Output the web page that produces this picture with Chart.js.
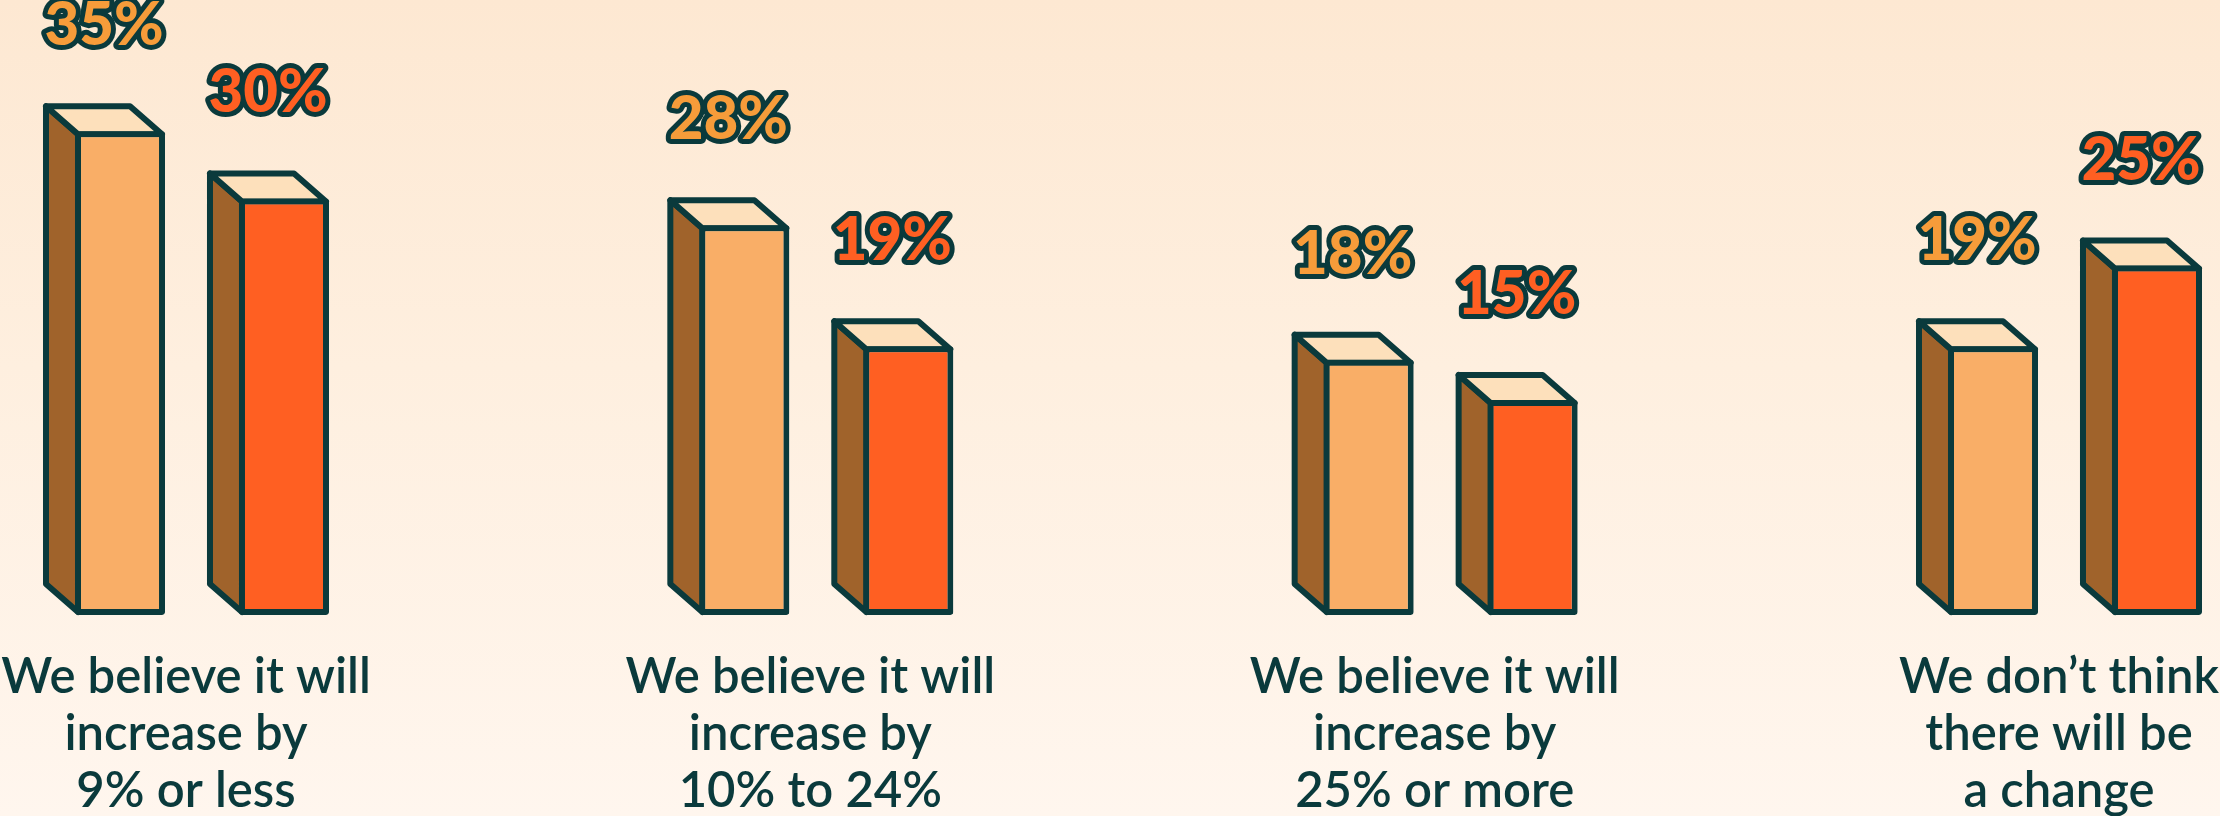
<!DOCTYPE html>
<html>
<head>
<meta charset="utf-8">
<title>Expected change</title>
<script src="https://cdn.jsdelivr.net/npm/chart.js@4.4.1/dist/chart.umd.min.js"></script>
<style>
  html, body { margin: 0; padding: 0; }
  #wrap {
    width: 2220px;
    height: 816px;
    position: relative;
    background: linear-gradient(#fde8d2, #feefdf 45%, #fff6ee);
  }
</style>
</head>
<body>
<div id="wrap"><canvas id="growth"></canvas></div>
<script>
// answers, one group per category
const categories = [
  ["We believe it will", "increase by", "9% or less"],
  ["We believe it will", "increase by", "10% to 24%"],
  ["We believe it will", "increase by", "25% or more"],
  ["We don\u2019t think", "there will be", "a change"]
];
const lightValues = [35, 28, 18, 19];
const darkValues = [30, 19, 15, 25];

// value axis: bars start a little below zero so short boxes still have some body
const axisFloor = -1;
const axisTop = 40;

const OUTLINE = "#0a3a3c";
const SIDE = "#a0632b";
const LID = "#fde0bb";
const DEPTH_X = 32, DEPTH_Y = 28, EDGE = 6;

// left and top faces of each box, drawn behind the front face
const boxFaces = {
  id: "boxFaces",
  beforeDatasetsDraw(chart) {
    const ctx = chart.ctx;
    ctx.save();
    ctx.lineWidth = EDGE;
    ctx.lineJoin = "round";
    ctx.strokeStyle = OUTLINE;
    chart.data.datasets.forEach((ds, di) => {
      chart.getDatasetMeta(di).data.forEach(bar => {
        const p = bar.getProps(["x", "y", "base", "width"], true);
        const l = p.x - p.width / 2 + EDGE / 2;
        const r = p.x + p.width / 2 - EDGE / 2;
        const t = p.y + EDGE / 2;
        const b = p.base - EDGE / 2;

        ctx.beginPath();
        ctx.moveTo(l, t);
        ctx.lineTo(l - DEPTH_X, t - DEPTH_Y);
        ctx.lineTo(l - DEPTH_X, b - DEPTH_Y);
        ctx.lineTo(l, b);
        ctx.closePath();
        ctx.fillStyle = SIDE;
        ctx.fill();
        ctx.stroke();

        ctx.beginPath();
        ctx.moveTo(l, t);
        ctx.lineTo(l - DEPTH_X, t - DEPTH_Y);
        ctx.lineTo(r - DEPTH_X, t - DEPTH_Y);
        ctx.lineTo(r, t);
        ctx.closePath();
        ctx.fillStyle = LID;
        ctx.fill();
        ctx.stroke();
      });
    });
    ctx.restore();
  }
};

// outlined percentage above every box
const valueLabels = {
  id: "valueLabels",
  afterDatasetsDraw(chart) {
    const ctx = chart.ctx;
    ctx.save();
    ctx.font = "900 60px Lato";
    ctx.textAlign = "center";
    ctx.textBaseline = "alphabetic";
    ctx.lineJoin = "round";
    ctx.lineWidth = 10;
    ctx.strokeStyle = OUTLINE;
    chart.data.datasets.forEach((ds, di) => {
      chart.getDatasetMeta(di).data.forEach((bar, i) => {
        const txt = ds.data[i] + "%";
        const x = bar.x - DEPTH_X / 2;
        const y = bar.y - 86;
        ctx.strokeText(txt, x, y);
        ctx.fillStyle = ds.labelColor;
        ctx.fillText(txt, x, y);
      });
    });
    ctx.restore();
  }
};

// category captions under each pair of boxes
const captions = {
  id: "captions",
  afterDraw(chart) {
    const ctx = chart.ctx;
    const xs = chart.scales.x;
    const base = chart.chartArea.bottom + 78;
    ctx.save();
    ctx.font = "600 49px Lato";
    ctx.fillStyle = OUTLINE;
    ctx.textAlign = "center";
    ctx.textBaseline = "alphabetic";
    categories.forEach((lines, i) => {
      const cx = xs.getPixelForValue(i) - DEPTH_X / 2;
      lines.forEach((line, j) => ctx.fillText(line, cx, base + j * 57));
    });
    ctx.restore();
  }
};

const chart = new Chart(document.getElementById("growth"), {
  type: "bar",
  data: {
    labels: categories.map(c => c.join(" ")),
    datasets: [{
      label: "First answer",
      data: lightValues,
      backgroundColor: "#f9ae67",
      labelColor: "#f69c3a",
      borderColor: OUTLINE,
      borderWidth: EDGE,
      borderSkipped: false,
      borderRadius: 3,
      base: axisFloor,
      clip: false
    }, {
      label: "Second answer",
      data: darkValues,
      backgroundColor: "#ff5f22",
      labelColor: "#ff5f22",
      borderColor: OUTLINE,
      borderWidth: EDGE,
      borderSkipped: false,
      borderRadius: 3,
      base: axisFloor,
      clip: false
    }]
  },
  options: {
    responsive: true,
    maintainAspectRatio: false,
    animation: false,
    categoryPercentage: 0.5253,
    barPercentage: 0.549,
    layout: {
      padding: { left: 202, right: 145, top: 64, bottom: 201 }
    },
    scales: {
      x: { display: false, offset: false },
      y: { display: false, min: axisFloor, max: axisTop }
    },
    plugins: {
      legend: { display: false },
      tooltip: { enabled: false }
    }
  },
  plugins: [boxFaces, valueLabels, captions]
});
</script>
</body>
</html>
